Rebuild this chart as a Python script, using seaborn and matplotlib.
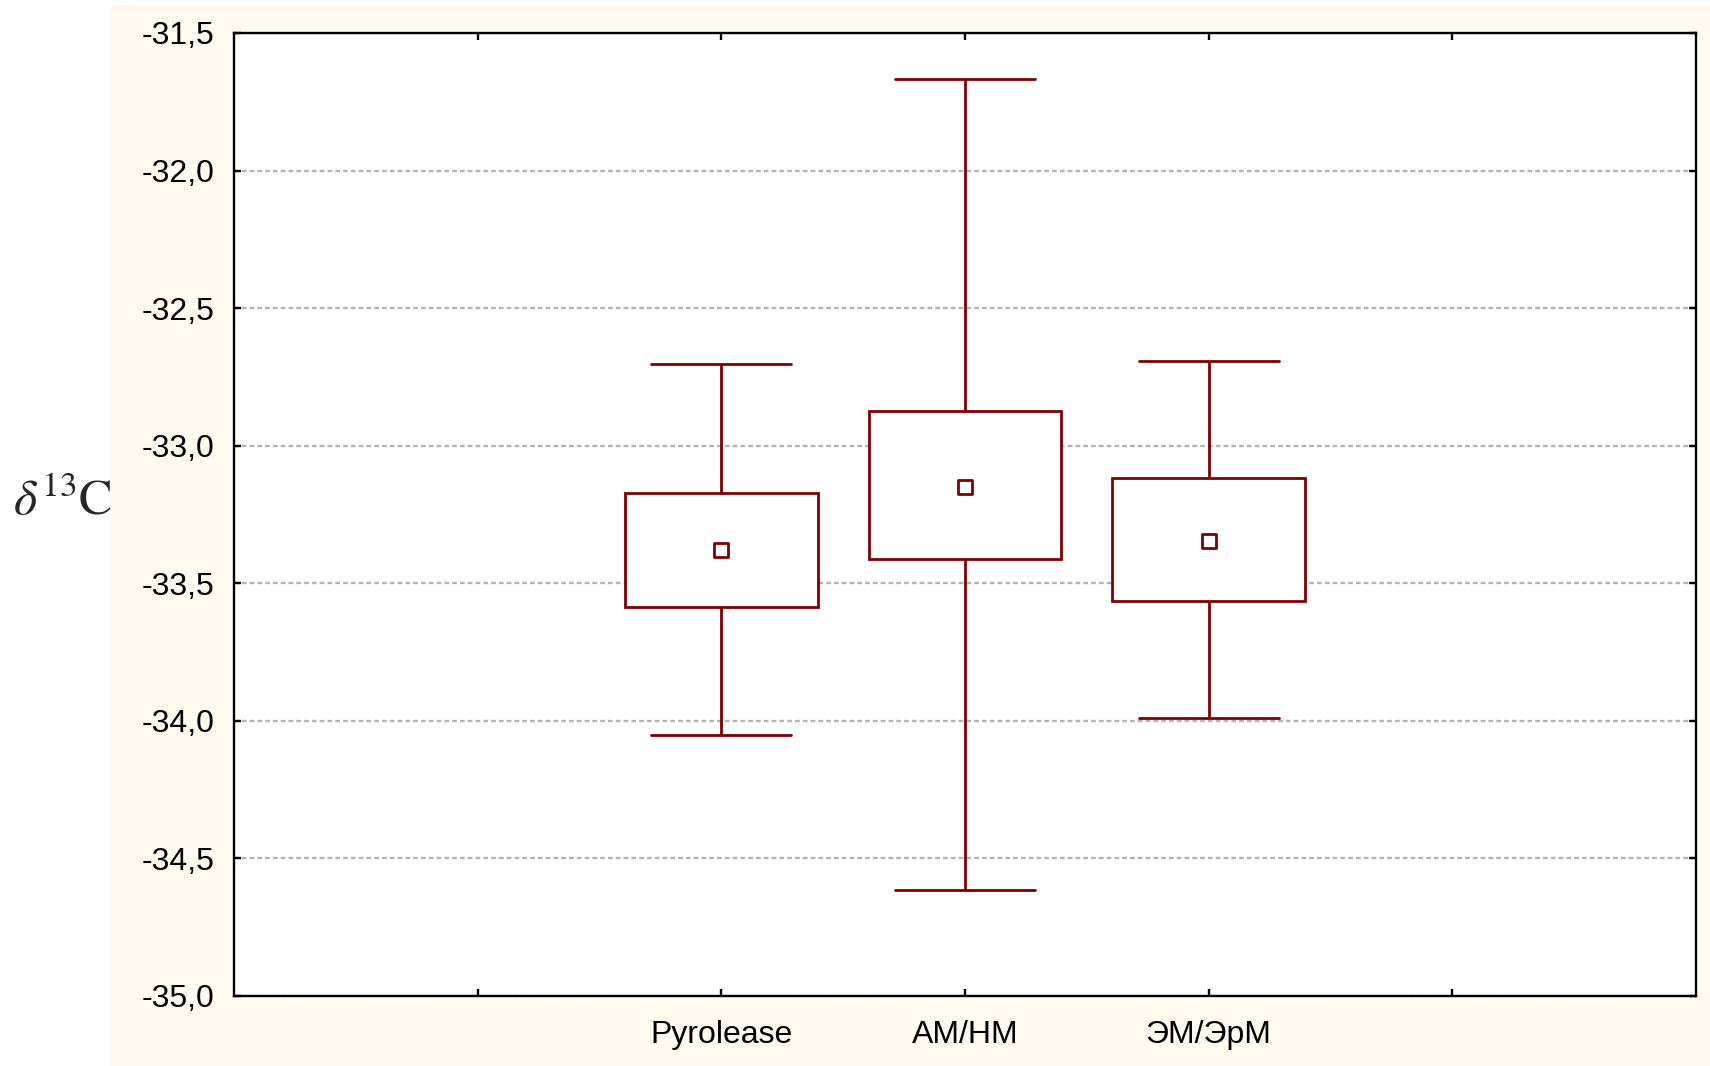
import matplotlib
matplotlib.use("Agg")
import matplotlib.pyplot as plt
from matplotlib.patches import Rectangle
import seaborn as sns
import pandas as pd

# ---- data ----
categories = ["Pyrolease", "AM/HM", "ЭМ/ЭрМ"]
whisker_low = [-34.05, -34.615, -33.99]
box_low = [-33.585, -33.413, -33.565]
center = [-33.379, -33.149, -33.347]
box_high = [-33.171, -32.873, -33.117]
whisker_high = [-32.704, -31.666, -32.693]

x_tick_labels = ["", "Pyrolease", "AM/HM", "ЭМ/ЭрМ", ""]
y_ticks = [-35.0, -34.5, -34.0, -33.5, -33.0, -32.5, -32.0, -31.5]
y_tick_labels = ["-35,0", "-34,5", "-34,0", "-33,5", "-33,0", "-32,5", "-32,0", "-31,5"]

# five-number table so the boxplot reproduces box = box_low..box_high, whiskers = min..max
rows = []
for i, cat in enumerate(categories):
    for v in (whisker_low[i], box_low[i], center[i], box_high[i], whisker_high[i]):
        rows.append({"group": cat, "value": v})
df = pd.DataFrame(rows)
centers = pd.DataFrame({"group": categories, "value": center})

DARK = "#800000"

sns.set_style("ticks")
plt.rcParams["font.family"] = ["Liberation Sans", "DejaVu Sans"]
plt.rcParams["mathtext.fontset"] = "stix"

fig = plt.figure(figsize=(17.10, 10.66), dpi=100, facecolor="white")
fig.add_artist(Rectangle((111 / 1710, 0), 1 - 111 / 1710, 1 - 4 / 1066,
                         transform=fig.transFigure, facecolor="#fffaf0",
                         edgecolor="none", zorder=-10))
ax = fig.add_axes([234 / 1710, 1 - 996 / 1066, (1696 - 234) / 1710, (996 - 33) / 1066])
ax.set_facecolor("white")

sns.boxplot(data=df, x="group", y="value", order=categories, ax=ax,
            whis=(0, 100), width=0.79, color="white", linecolor=DARK,
            linewidth=2.0, saturation=1, showfliers=False,
            medianprops={"visible": False}, capwidths=0.575, zorder=3)

sns.scatterplot(data=centers, x="group", y="value", ax=ax, marker="s", s=105,
                facecolor="white", edgecolor=DARK, linewidth=2.0, zorder=5,
                legend=False)

ax.set_xlim(-2, 4)
ax.set_ylim(-35.0, -31.5)
ax.set_xticks([-1, 0, 1, 2, 3])
ax.set_xticklabels(x_tick_labels)
ax.set_yticks(y_ticks)
ax.set_yticklabels(y_tick_labels)

ax.yaxis.grid(True, color="#b4b4b4", linewidth=1.7, linestyle=(0, (2, 1.3)), zorder=0)
ax.xaxis.grid(False)
ax.set_axisbelow(True)

for side in ["left", "right", "top", "bottom"]:
    ax.spines[side].set_visible(True)
    ax.spines[side].set_color("black")
    ax.spines[side].set_linewidth(1.7)

ax.tick_params(axis="both", which="major", direction="in", length=5, width=1.7,
               color="black", top=True, right=True, labelsize=23, labelcolor="black")
ax.tick_params(axis="y", pad=14)
ax.tick_params(axis="x", pad=17)

ax.set_xlabel("")
ax.set_ylabel(r"$\delta^{13}\mathrm{C}$", rotation=0, fontsize=36, ha="left", va="center")
ax.yaxis.set_label_coords((13 - 234) / 1462, 1 - (502 - 33) / 963)

fig.savefig("out.png", dpi=100, facecolor="white")
